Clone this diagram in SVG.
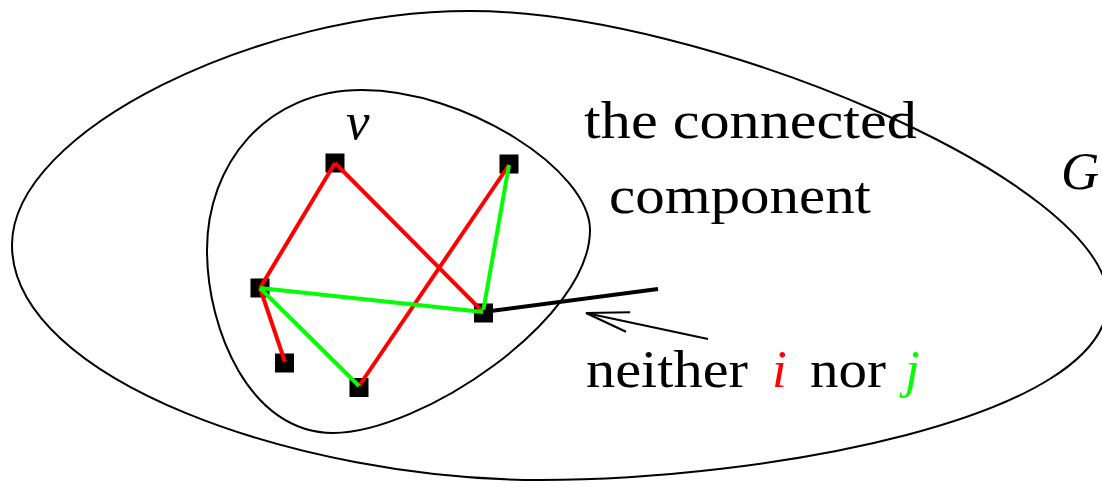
<svg xmlns="http://www.w3.org/2000/svg" width="1102" height="487" viewBox="0 0 1102 487">
<style>
.outline{fill:none;stroke:#000;stroke-width:2}
.node{fill:#000}
.red{stroke:#ff0000;stroke-width:4;fill:none}
.green{stroke:#00ff00;stroke-width:4;fill:none}
.blk{stroke:#000;stroke-width:4;fill:none}
.arr{stroke:#000;stroke-width:2;fill:none}
.t{font-family:"Liberation Serif","DejaVu Serif",serif;font-size:53px;fill:#000}
.it{font-style:italic}
</style>
<defs>
<marker id="open" markerUnits="userSpaceOnUse" markerWidth="60" markerHeight="30" viewBox="-50 -15 60 30" refX="0" refY="0" orient="auto" overflow="visible">
<path d="M-43,-10 L0,0 L-43,10" fill="none" stroke="#000" stroke-width="2"/>
</marker>
</defs>
<rect width="1102" height="487" fill="#fff"/>
<g id="graphG">
<path class="outline" d="M12,245 C12,130 260,11 470,11 C700,11 1108,180 1108,300 C1108,420 760,480 540,480 C300,480 12,380 12,245 Z"/>
</g>
<g id="component">
<path class="outline" d="M362,90 C465,90 590,170 590,230 C590,320 420,433 333,433 C250,433 207,330 207,250 C207,165 265,90 362,90 Z"/>
</g>
<g id="n1"><rect class="node" x="325.5" y="153.5" width="19" height="19"/></g>
<g id="n2"><rect class="node" x="499.5" y="154.5" width="19" height="19"/></g>
<g id="n3"><rect class="node" x="250.5" y="278.5" width="19" height="19"/></g>
<g id="n4"><rect class="node" x="474" y="303.5" width="19" height="19"/></g>
<g id="n5"><rect class="node" x="275" y="353.5" width="19" height="19"/></g>
<g id="n6"><rect class="node" x="349.5" y="378" width="19" height="19"/></g>
<g id="connectors">
<line class="red" x1="335" y1="163" x2="260" y2="288"/>
<line class="red" x1="335" y1="163" x2="483" y2="312"/>
<line class="red" x1="509" y1="165" x2="359" y2="386"/>
<line class="red" x1="260" y1="288" x2="285" y2="362"/>
<line class="green" x1="509" y1="165" x2="483" y2="312"/>
<line class="green" x1="260" y1="288" x2="483" y2="312"/>
<line class="green" x1="260" y1="288" x2="359" y2="386"/>
<line class="blk" x1="483" y1="312" x2="658" y2="289"/>
<line class="arr" x1="708" y1="339" x2="586" y2="313" marker-end="url(#open)"/>
</g>
<g id="labels">
<text class="t it" x="346" y="139">v</text>
<text class="t" x="584" y="138" textLength="333" lengthAdjust="spacingAndGlyphs">the connected</text>
<text class="t" x="609" y="213" textLength="262" lengthAdjust="spacingAndGlyphs">component</text>
<text class="t" x="586" y="387"><tspan textLength="162" lengthAdjust="spacingAndGlyphs">neither</tspan><tspan class="it" x="772" fill="#ff0000">i</tspan><tspan x="810" textLength="76" lengthAdjust="spacingAndGlyphs">nor</tspan><tspan class="it" x="905" fill="#00ff00">j</tspan></text>
<text class="t it" x="1061" y="189">G</text>
</g>
</svg>
